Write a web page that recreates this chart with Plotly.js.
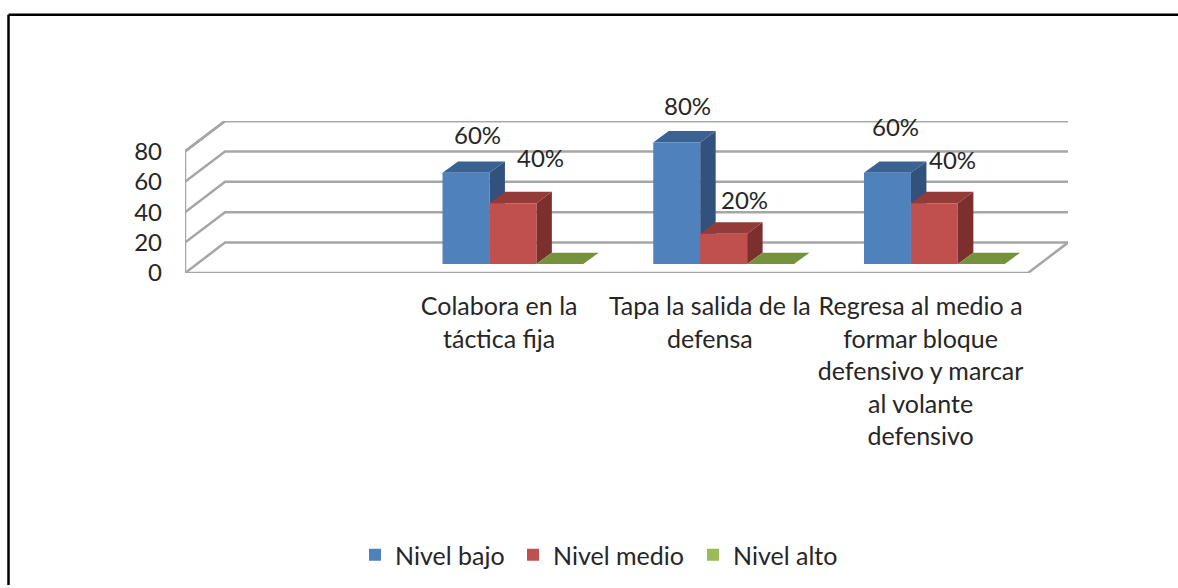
<!DOCTYPE html>
<html>
<head>
<meta charset="utf-8">
<script src="https://cdn.plot.ly/plotly-3.0.1.min.js"></script>
<style>html,body{margin:0;padding:0;background:#fff}#chart{width:1178px;height:588px}</style>
</head>
<body>
<div id="chart"></div>
<script>
// ---- data ----
const categories = ["Colabora en la<br>táctica fija", "Tapa la salida de la<br>defensa", "Regresa al medio a<br>formar bloque<br>defensivo y marcar<br>al volante<br>defensivo"];
const seriesNames = ["Nivel bajo", "Nivel medio", "Nivel alto"];
const nivelBajo = [60, 80, 60];
const nivelMedio = [40, 20, 40];
const nivelAlto = [0, 0, 0];
const yTicks = [0, 20, 40, 60, 80];

// ---- styling / oblique projection (in axis units) ----
const FONT = "Lato, Carlito, Calibri, sans-serif";
const FS = 24, FS_CAT = 25;
const W = 1178, H = 588, L = 185, R = 1068, T = 121, B = 274;
const wallDx = 0.19, wallDy = 20, yTop = 100, xMin = -0.5, xFront = 3.5, xMax = xFront + wallDx;
const barW = 0.2227, barDepthX = 0.0735, barDepthY = 7.5, floorX = 0.056, floorY = 5.9;
const series = [
  {v: nivelBajo, front: "#4F81BD", top: "#3A6292", side: "#31527C", z: 2},
  {v: nivelMedio, front: "#C0504D", top: "#943A38", side: "#7C302E", z: 4},
  {v: nivelAlto, front: "#9BBB59", top: "#76923C", side: "#5F7530", z: 6}
];
// label shifts in px relative to the top of each front face [series][category]
const labelShift = [
  [[12, 38], [11, 37], [8, 46]],
  [[28, 46], [21, 34], [18, 44]]
];
// left pixel of each legend box
const legendLeft = [355, 513, 693];

const traces = [];
// walls and floor grid
const gx = [], gy = [];
yTicks.forEach(t => {
  gx.push(xMin, xMin + wallDx, xMax, null);
  gy.push(t, t + wallDy, t + wallDy, null);
});
gx.push(xMin, xMin, null, xMin, xFront, xMax, null, xMin + wallDx, xMax, null, xMin, xMin + wallDx);
gy.push(0, yTicks[yTicks.length - 1], null, 0, 0, wallDy, null, yTop, yTop, null, yTicks[yTicks.length - 1], yTop);
traces.push({type: "scatter", mode: "lines", x: gx, y: gy, line: {color: "#A6A6A6", width: 2.5}, connectgaps: false, showlegend: false, hoverinfo: "skip", zorder: 0});

const annotations = [];
series.forEach((s, i) => {
  const xs = categories.map((_, c) => c + 1 + floorX + (i - 1) * barW);
  // side faces + top faces
  xs.forEach((x, c) => {
    const x0 = x - barW / 2, x1 = x + barW / 2, top = floorY + s.v[c];
    if (s.v[c] > 0) {
      traces.push({type: "scatter", mode: "lines", fill: "toself", fillcolor: s.side, line: {width: 0, color: s.side},
        x: [x1, x1 + barDepthX, x1 + barDepthX, x1, x1], y: [floorY, floorY + barDepthY, top + barDepthY, top, floorY],
        showlegend: false, hoverinfo: "skip", zorder: s.z - 1});
    }
    traces.push({type: "scatter", mode: "lines", fill: "toself", fillcolor: s.top, line: {width: 0, color: s.top},
      x: [x0, x1, x1 + barDepthX, x0 + barDepthX, x0], y: [top, top, top + barDepthY, top + barDepthY, top],
      showlegend: false, hoverinfo: "skip", zorder: s.z - 1});
    if (s.v[c] > 0 && labelShift[i]) {
      annotations.push({x: x, y: top, xref: "x", yref: "y", text: s.v[c] + "%", showarrow: false,
        xshift: labelShift[i][c][0], yshift: labelShift[i][c][1], xanchor: "center", yanchor: "middle",
        font: {family: FONT, size: FS, color: "#262626"}});
    }
  });
  // front faces
  traces.push({type: "bar", name: seriesNames[i], x: xs, y: s.v, base: floorY, width: barW,
    legend: i === 0 ? "legend" : "legend" + (i + 1),
    marker: {color: s.front, line: {width: 0}}, zorder: s.z, cliponaxis: false, hoverinfo: "name+y"});
});

const px = p => (p - L) / (R - L), py = p => (B - p) / (B - T);
const shapes = [
  {type: "line", xref: "paper", yref: "paper", x0: px(8.5), x1: px(W), y0: py(14), y1: py(14), line: {color: "#000", width: 2.5}},
  {type: "line", xref: "paper", yref: "paper", x0: px(8.5), x1: px(8.5), y0: py(14), y1: py(H), line: {color: "#000", width: 2.5}}
];
const legendBox = left => ({x: px(left), xanchor: "left", y: py(555), yanchor: "middle", orientation: "h",
  font: {family: FONT, size: FS_CAT, color: "#262626"}, bgcolor: "rgba(0,0,0,0)", itemclick: false, itemdoubleclick: false});

const layout = {
  width: W, height: H, autosize: false,
  margin: {l: L, r: W - R, t: T, b: H - B, pad: 0},
  paper_bgcolor: "#fff", plot_bgcolor: "rgba(0,0,0,0)",
  barmode: "overlay", shapes, annotations,
  font: {family: FONT, size: FS, color: "#262626"},
  xaxis: {range: [xMin, xMax], tickmode: "array", tickvals: categories.map((_, c) => c + 1), ticktext: categories,
    showgrid: false, zeroline: false, showline: false, ticks: "", ticklabelstandoff: 16, ticklabelshift: -2, tickangle: 0,
    tickfont: {family: FONT, size: FS_CAT, color: "#262626"}, fixedrange: true},
  yaxis: {range: [0, yTop], tickmode: "array", tickvals: yTicks, ticktext: yTicks.map(String),
    showgrid: false, zeroline: false, showline: false, ticks: "", ticklabelstandoff: 22,
    tickfont: {family: FONT, size: FS, color: "#262626"}, fixedrange: true},
  showlegend: true,
  legend: legendBox(legendLeft[0]),
  legend2: legendBox(legendLeft[1]),
  legend3: legendBox(legendLeft[2])
};
Plotly.newPlot("chart", traces, layout, {displayModeBar: false});
</script>
</body>
</html>
